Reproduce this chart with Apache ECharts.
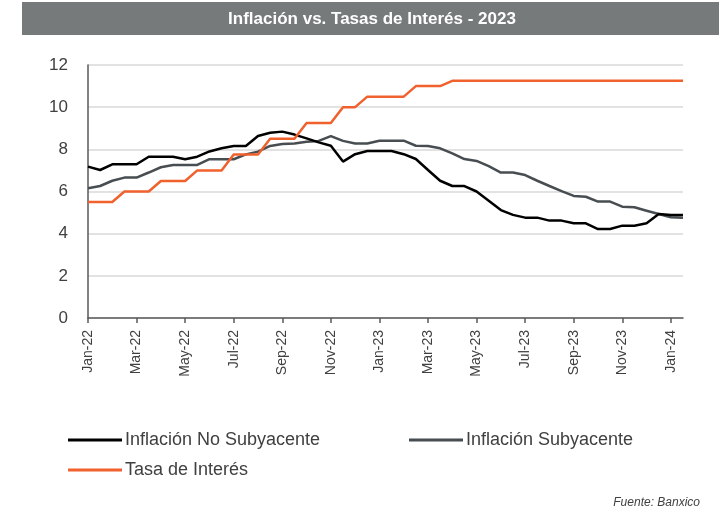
<!DOCTYPE html>
<html>
  <head>
    <meta charset="utf-8">
    <title>Inflación vs. Tasas de Interés - 2023</title>
    <script src="https://cdn.jsdelivr.net/npm/echarts@6/dist/echarts.min.js"></script>
    <style media="screen">
    html,body{
      height:100%;
      width:100%;
      margin:0px;
      background:#ffffff;
    }
    #chartDiv{
      width:719px;
      height:511px;
    }
    </style>
  </head>
  <body>
    <div id="chartDiv"></div>
    <script type="text/javascript">
      // meses (cada uno con dos quincenas)
      var months = ['Jan-22','Feb-22','Mar-22','Apr-22','May-22','Jun-22','Jul-22','Aug-22','Sep-22','Oct-22','Nov-22','Dec-22',
                    'Jan-23','Feb-23','Mar-23','Apr-23','May-23','Jun-23','Jul-23','Aug-23','Sep-23','Oct-23','Nov-23','Dec-23',
                    'Jan-24'];
      var halves = ['1Q','2Q'];

      var inflNoSub = [7.18,7.02,7.29,7.29,7.29,7.65,7.65,7.65,7.53,7.65,
                       7.90,8.05,8.16,8.16,8.63,8.79,8.84,8.70,8.52,8.33,
                       8.17,7.42,7.77,7.92,7.92,7.92,7.77,7.54,7.02,6.51,
                       6.26,6.26,6.00,5.56,5.12,4.89,4.76,4.76,4.62,4.62,
                       4.49,4.49,4.22,4.22,4.38,4.38,4.49,4.93,4.89,4.89];
      var inflSub   = [6.15,6.26,6.51,6.66,6.66,6.90,7.15,7.26,7.26,7.26,
                       7.53,7.53,7.53,7.76,7.89,8.16,8.25,8.28,8.36,8.40,
                       8.63,8.40,8.28,8.28,8.41,8.41,8.41,8.17,8.16,8.05,
                       7.81,7.54,7.45,7.20,6.90,6.90,6.78,6.51,6.26,6.02,
                       5.79,5.75,5.52,5.52,5.28,5.25,5.09,4.93,4.78,4.76];
      var tasa      = [5.50,5.50,5.50,6.00,6.00,6.00,6.50,6.50,6.50,7.00,
                       7.00,7.00,7.75,7.75,7.75,8.50,8.50,8.50,9.25,9.25,
                       9.25,10.00,10.00,10.50,10.50,10.50,10.50,11.00,11.00,11.00,
                       11.25,11.25,11.25,11.25,11.25,11.25,11.25,11.25,11.25,11.25,
                       11.25,11.25,11.25,11.25,11.25,11.25,11.25,11.25,11.25,11.25];

      var categories = [];
      months.forEach(function(m){
        halves.forEach(function(h){ categories.push(m + ' ' + h); });
      });

      var txt = '#404040';
      var font = 'Liberation Sans';

      var option = {
        animation:false,
        textStyle:{fontFamily:font},
        graphic:[
          {
            type:'rect',
            shape:{x:22, y:2, width:697, height:33},
            style:{fill:'#767a7b'}
          },
          {
            type:'text',
            x:372, y:19,
            style:{
              text:'Inflación vs. Tasas de Interés - 2023',
              fill:'#ffffff',
              font:'bold 17px "Liberation Sans"',
              textAlign:'center',
              textVerticalAlign:'middle'
            }
          },
          {
            type:'text',
            x:700, y:503,
            style:{
              text:'Fuente: Banxico',
              fill:txt,
              font:'italic 12px "Liberation Sans"',
              textAlign:'right',
              textVerticalAlign:'middle'
            }
          }
        ],
        legend:[
          {
            data:['Inflación No Subyacente'],
            left:63, top:426,
            icon:'rect', itemWidth:54, itemHeight:3, itemGap:4,
            textStyle:{color:txt, fontSize:18, fontFamily:font, padding:[0,0,0,-2]}
          },
          {
            data:['Inflación Subyacente'],
            left:404, top:426,
            icon:'rect', itemWidth:54, itemHeight:3, itemGap:4,
            textStyle:{color:txt, fontSize:18, fontFamily:font, padding:[0,0,0,-2]}
          },
          {
            data:['Tasa de Interés'],
            left:63, top:456,
            icon:'rect', itemWidth:54, itemHeight:3, itemGap:4,
            textStyle:{color:txt, fontSize:18, fontFamily:font, padding:[0,0,0,-2]}
          }
        ],
        grid:{
          left:88,
          right:36,
          top:65,
          bottom:193,
          containLabel:false
        },
        xAxis:{
          type:'category',
          boundaryGap:false,
          data:categories,
          axisLine:{lineStyle:{color:'#595959', width:1.5}},
          axisTick:{show:true, interval:3, length:5, lineStyle:{color:'#595959', width:1.5}},
          axisLabel:{
            interval:3,
            rotate:90,
            color:txt,
            fontSize:14,
            margin:12,
            formatter:function(value){
              return value.split(' ')[0];
            }
          },
          splitLine:{show:false}
        },
        yAxis:{
          type:'value',
          min:0,
          max:12,
          interval:2,
          axisLine:{show:true, lineStyle:{color:'#595959', width:1.5}},
          axisTick:{show:false},
          axisLabel:{color:txt, fontSize:17, margin:20},
          splitLine:{lineStyle:{color:'#d9d9d9', width:1.5}}
        },
        series:[
          {
            name:'Inflación No Subyacente',
            type:'line',
            symbol:'none',
            data:inflNoSub,
            itemStyle:{color:'#000000'},
            lineStyle:{color:'#000000', width:2.5},
            z:3
          },
          {
            name:'Inflación Subyacente',
            type:'line',
            symbol:'none',
            data:inflSub,
            itemStyle:{color:'#474d50'},
            lineStyle:{color:'#474d50', width:2.5},
            z:2
          },
          {
            name:'Tasa de Interés',
            type:'line',
            symbol:'none',
            data:tasa,
            itemStyle:{color:'#f0612e'},
            lineStyle:{color:'#f0612e', width:2.5},
            z:4
          }
        ]
      };

      var chart = echarts.init(document.getElementById('chartDiv'));
      chart.setOption(option);
    </script>
  </body>
</html>
